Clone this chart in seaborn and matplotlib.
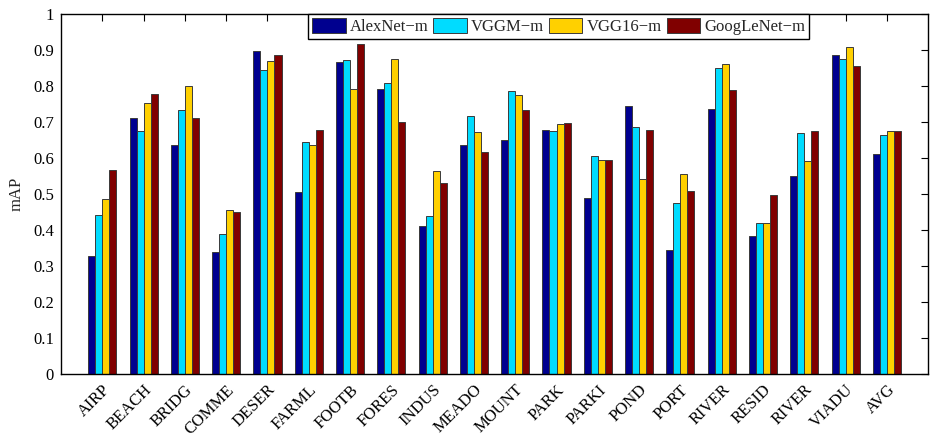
import numpy as np
import pandas as pd
import matplotlib
matplotlib.use("Agg")
import matplotlib.pyplot as plt
import seaborn as sns

categories = ["AIRP", "BEACH", "BRIDG", "COMME", "DESER", "FARML", "FOOTB", "FORES",
              "INDUS", "MEADO", "MOUNT", "PARK", "PARKI", "POND", "PORT", "RIVER",
              "RESID", "RIVER", "VIADU", "AVG"]
models = ["AlexNet\u2212m", "VGGM\u2212m", "VGG16\u2212m", "GoogLeNet\u2212m"]

alexnet = [0.327, 0.711, 0.635, 0.339, 0.897, 0.504, 0.866, 0.791, 0.409, 0.636,
           0.650, 0.676, 0.488, 0.744, 0.343, 0.737, 0.382, 0.550, 0.886, 0.610]
vggm = [0.440, 0.674, 0.733, 0.388, 0.843, 0.643, 0.873, 0.807, 0.437, 0.716,
        0.786, 0.674, 0.605, 0.686, 0.474, 0.850, 0.420, 0.669, 0.874, 0.663]
vgg16 = [0.484, 0.752, 0.801, 0.456, 0.869, 0.635, 0.790, 0.875, 0.563, 0.671,
         0.775, 0.695, 0.593, 0.541, 0.554, 0.860, 0.420, 0.592, 0.909, 0.675]
googlenet = [0.565, 0.777, 0.711, 0.449, 0.885, 0.676, 0.917, 0.700, 0.530, 0.615,
             0.734, 0.696, 0.593, 0.678, 0.507, 0.789, 0.496, 0.675, 0.855, 0.675]

colors = ["#00008F", "#00DCFF", "#FFD000", "#800000"]
yticks = [0, 0.1, 0.2, 0.3, 0.4, 0.5, 0.6, 0.7, 0.8, 0.9, 1]
ytick_labels = ["0", "0.1", "0.2", "0.3", "0.4", "0.5", "0.6", "0.7", "0.8", "0.9", "1"]

# Long-form table; groups keyed by position because "RIVER" occurs twice
rows = []
for name, vals in zip(models, [alexnet, vggm, vgg16, googlenet]):
    for i, v in enumerate(vals):
        rows.append({"pos": i, "model": name, "mAP": v})
df = pd.DataFrame(rows)

sns.set_theme(style="white")
plt.rcParams["font.family"] = ["Liberation Serif", "DejaVu Serif"]

fs = 12
fig = plt.figure(figsize=(9.3, 4.36), dpi=100)
ax = fig.add_axes([0.0656, 0.1433, 0.9324, 0.8247])

sns.barplot(data=df, x="pos", y="mAP", hue="model", hue_order=models,
            palette=colors, width=0.68, gap=0, edgecolor="#3a3a3a",
            linewidth=0.7, saturation=1, ax=ax, legend=True)

ax.set_xlim(-1, len(categories))
ax.set_ylim(0, 1)
ax.set_yticks(yticks)
ax.set_yticklabels(ytick_labels, fontsize=fs)
ax.set_xticks(range(len(categories)))
ax.set_xticklabels(categories, rotation=45, ha="right", rotation_mode="anchor",
                   fontsize=fs)
ax.set_xlabel("")
ax.set_ylabel("mAP", fontsize=fs, labelpad=6)

ax.tick_params(axis="both", direction="in", top=True, right=True, length=5,
               width=0.8, color="black", labelcolor="black")
ax.tick_params(axis="x", pad=6)
ax.tick_params(axis="y", pad=5)
for s in ax.spines.values():
    s.set_visible(True)
    s.set_color("black")
    s.set_linewidth(1.0)

handles, labels = ax.get_legend_handles_labels()
ax.legend(handles, labels, ncol=4, loc="upper center", bbox_to_anchor=(0.574, 1.0),
          frameon=True, fancybox=False, edgecolor="black", framealpha=1,
          fontsize=fs, handlelength=2.0, handleheight=1.0, handletextpad=0.25,
          columnspacing=0.3, borderpad=0.25, borderaxespad=0.0)
ax.get_legend().get_frame().set_linewidth(1.0)

fig.savefig("out.png", dpi=100)
